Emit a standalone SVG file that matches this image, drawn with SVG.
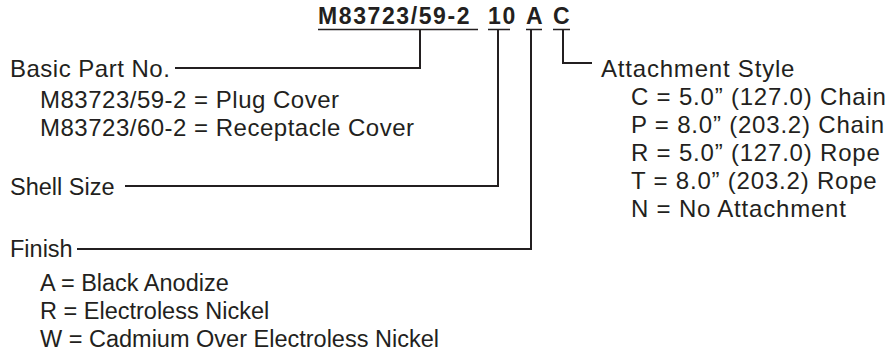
<svg xmlns="http://www.w3.org/2000/svg" width="891" height="354" viewBox="0 0 891 354">
<style>
text{font-family:"Liberation Sans",Arial,sans-serif;font-size:24px;fill:#231f20}
.t{font-weight:bold;font-size:23px;letter-spacing:1.6px}
.b{letter-spacing:0.5px}
.f{font-size:23.5px}
.a{letter-spacing:0.8px}
.c{fill:none;stroke:#231f20;stroke-width:2}
.u{fill:none;stroke:#231f20;stroke-width:1.5}
</style>
<rect width="891" height="354" fill="#fff"/>
<g id="title">
<text class="t" x="318" y="24">M83723/59-2</text>
<text class="t" x="488" y="24">10</text>
<text class="t" x="526" y="24">A</text>
<text class="t" x="553" y="24">C</text>
<path class="u" d="M318 29.5H478M488 29.5H510M526 29.5H542M553 29.5H570"/>
</g>
<g id="connectors">
<path class="c" d="M175 68H420V30"/>
<path class="c" d="M125 186H498V30"/>
<path class="c" d="M77 249H531V30"/>
<path class="c" d="M563 30V63H592"/>
</g>
<g id="basic" class="b">
<text x="10" y="77">Basic Part No.</text>
<text x="40" y="108">M83723/59-2 = Plug Cover</text>
<text x="40" y="136">M83723/60-2 = Receptacle Cover</text>
</g>
<g id="shell">
<text x="10" y="195" class="f">Shell Size</text>
</g>
<g id="finish">
<text class="f" x="10" y="257">Finish</text>
<text class="f" x="40" y="291">A = Black Anodize</text>
<text class="f" x="40" y="319">R = Electroless Nickel</text>
<text class="f" x="40" y="347">W = Cadmium Over Electroless Nickel</text>
</g>
<g id="attachment" class="a">
<text x="601" y="77">Attachment Style</text>
<text x="631" y="105">C = 5.0” (127.0) Chain</text>
<text x="631" y="133">P = 8.0” (203.2) Chain</text>
<text x="631" y="161">R = 5.0” (127.0) Rope</text>
<text x="631" y="189">T = 8.0” (203.2) Rope</text>
<text x="631" y="217">N = No Attachment</text>
</g>
</svg>
